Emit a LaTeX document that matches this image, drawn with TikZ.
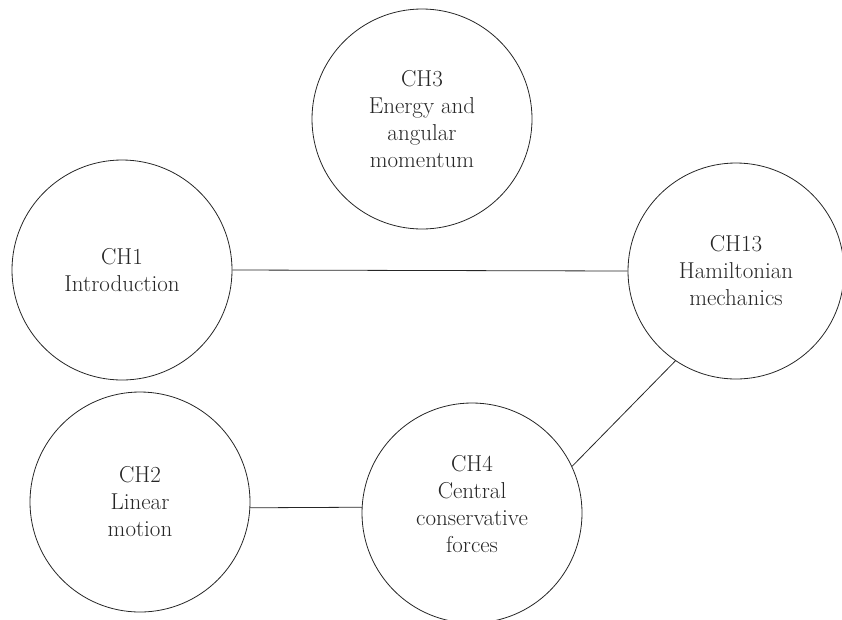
\documentclass[tikz,border=0pt]{standalone}
\usepackage{tikz}

\begin{document}
\begin{tikzpicture}[x=1pt,y=-1pt,line width=.8pt,black!85,
    chap/.style={circle,draw,minimum size=220pt,align=center,
      text=black!85,font=\fontsize{23}{27}\selectfont}]
  \useasboundingbox (0,0) rectangle (842,619);
  % chapters
  \node[chap] (ch3) at (422,119) {CH3\\Energy and\\angular\\momentum};
  \node[chap] (ch1) at (122,270) {CH1\\Introduction};
  \node[chap,minimum size=216pt] (ch13) at (736,271) {CH13\\Hamiltonian\\mechanics};
  \node[chap] (ch2) at (140,502) {CH2\\Linear\\motion};
  \node[chap] (ch4) at (472,513) {CH4\\Central\\conservative\\forces\\[-8pt]};
  % links
  \draw (ch1.east) -- (ch13.west);
  \draw (ch2.-3) -- (ch4.177);
  \draw (ch4.25) -- (ch13.236);
\end{tikzpicture}
\end{document}
